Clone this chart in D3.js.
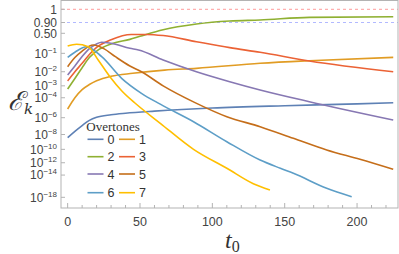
<!DOCTYPE html>
<html>
<head>
<meta charset="utf-8">
<script src="https://cdn.jsdelivr.net/npm/d3@7"></script>
<style>
  body { margin: 0; background: white; }
  svg { display: block; }
</style>
</head>
<body>
<div id="vis"></div>
<script>
// size of the page
let W = 399, H = 254

// frame of the plot
let frame = { left: 61, right: 398, top: 0.5, bottom: 208 }

// overtone colours (mathematica default)
let colors = ['#5E81B5', '#E19C24', '#8FB032', '#EB6235', '#8778B3', '#C56E1A', '#5D9EC7', '#FFBF00']

// data: t0 values and log10 of the mismatch for every overtone
let t0_0 = [0, 5, 10, 15, 20, 30, 40, 60, 100, 150, 200, 225]
let logE_0 = [-8.41, -7.6, -6.9, -6.3, -5.95, -5.68, -5.52, -5.3, -4.98, -4.75, -4.57, -4.46]

let t0_1 = [0, 5, 10, 15, 20, 30, 45, 67, 89, 133, 167, 225]
let logE_1 = [-5.08, -4.0, -3.3, -2.9, -2.62, -2.3, -2.1, -1.9, -1.79, -1.5, -1.36, -1.19]

let t0_2 = [0, 5, 10, 15, 20, 30, 43, 50, 66, 89, 112, 133, 167, 225]
let logE_2 = [-3.25, -2.45, -1.75, -1.2, -0.9, -0.62, -0.47, -0.38, -0.19, -0.068, -0.036, -0.03, -0.017, -0.0144]

let t0_3 = [0, 5, 10, 15, 20, 30, 44, 55, 66, 89, 112, 133, 167, 225]
let logE_3 = [-2.63, -2.0, -1.5, -1.05, -0.75, -0.48, -0.33, -0.33, -0.36, -0.545, -0.76, -0.954, -1.375, -2.0]

let t0_4 = [0, 5, 10, 15, 20, 23.5, 30, 43, 49, 66, 89, 112, 133, 167, 225]
let logE_4 = [-2.21, -1.65, -1.15, -0.8, -0.62, -0.565, -0.6, -0.786, -0.855, -1.32, -2.0, -2.685, -3.33, -4.365, -6.26]

let t0_5 = [0, 5, 10, 17.7, 25, 33, 43, 51, 66, 88, 110, 133, 156, 179, 202, 225]
let logE_5 = [-1.69, -1.2, -0.9, -0.66, -0.8, -1.157, -1.65, -2.0, -3.0, -4.45, -5.89, -7.03, -8.49, -10.09, -11.47, -13.05]

let t0_6 = [0, 5, 13, 23.5, 37.3, 51, 64, 87, 110, 133, 147, 156, 179, 196.3]
let logE_6 = [-1.186, -0.95, -0.723, -1.157, -2.44, -3.61, -4.6, -6.45, -8.94, -11.58, -12.88, -13.7, -16.32, -17.88]

let t0_7 = [0, 6.2, 14.2, 21.1, 29.2, 37.3, 46.5, 64, 87, 110, 128.3, 139.8]
let logE_7 = [-0.697, -0.634, -0.723, -1.323, -2.33, -3.39, -4.49, -6.63, -10.0, -12.88, -15.5, -16.63]

let t0s = [t0_0, t0_1, t0_2, t0_3, t0_4, t0_5, t0_6, t0_7]
let logEs = [logE_0, logE_1, logE_2, logE_3, logE_4, logE_5, logE_6, logE_7]

// tick values
let xTicks = [0, 50, 100, 150, 200]
let yTickVals = [1, 0.9, 0.5, 1e-1, 1e-2, 1e-3, 1e-4, 1e-6, 1e-8, 1e-10, 1e-12, 1e-14, 1e-18]
let yTickBase = ['1', '0.90', '0.50', '10', '10', '10', '10', '10', '10', '10', '10', '10', '10']
let yTickExp = ['', '', '', '\u22121', '\u22122', '\u22123', '\u22124', '\u22126', '\u22128', '\u221210', '\u221212', '\u221214', '\u221218']

// legend labels
let legendTitle = 'Overtones'
let overtones = ['0', '1', '2', '3', '4', '5', '6', '7']

let svg = d3.select('#vis')
  .append('svg')
  .attr('width', W)
  .attr('height', H)
  .style('background-color', 'white')

// scales
let x = d3.scaleLinear()
  .domain([-4.6, 228.3])
  .range([frame.left, frame.right])

// y axis goes with the square root of -log10(E)
let yLin = d3.scaleLinear()
  .domain([0, Math.sqrt(-Math.log10(0.9)), Math.sqrt(-Math.log10(0.5)), Math.sqrt(20.1)])
  .range([9.3, 22.5, 33.3, frame.bottom])
let yLog = v => yLin(Math.sqrt(Math.max(0, -v)))   // v is log10(E)
let y = e => yLog(Math.log10(e))

// dashed reference lines at 1 and 0.9
svg.append('line')
  .attr('x1', frame.left).attr('x2', frame.right)
  .attr('y1', y(1)).attr('y2', y(1))
  .attr('stroke', '#ff9c9c').attr('stroke-width', 1.2)
  .attr('stroke-dasharray', '3,3')
  .attr('opacity', 0.8)
svg.append('line')
  .attr('x1', frame.left).attr('x2', frame.right)
  .attr('y1', y(0.9)).attr('y2', y(0.9))
  .attr('stroke', '#a0a8ff').attr('stroke-width', 1.2)
  .attr('stroke-dasharray', '3,3')
  .attr('opacity', 0.8)

// curves
let line = d3.line()
  .x(d => x(d[0]))
  .y(d => yLog(d[1]))
  .curve(d3.curveMonotoneX)

svg.append('g')
  .selectAll('path')
  .data(d3.range(8))
  .join('path')
  .attr('d', k => line(t0s[k].map((t, i) => [t, logEs[k][i]])))
  .attr('fill', 'none')
  .attr('stroke', k => colors[k])
  .attr('stroke-width', 1.6)

// frame
let axisColor = '#b3b3b3'
svg.append('rect')
  .attr('x', frame.left).attr('y', frame.top)
  .attr('width', frame.right - frame.left)
  .attr('height', frame.bottom - frame.top)
  .attr('fill', 'none')
  .attr('stroke', axisColor)
  .attr('stroke-width', 1)

// x ticks (inward)
let minor = d3.range(0, 230, 10)
svg.append('g')
  .selectAll('line')
  .data(minor)
  .join('line')
  .attr('x1', d => x(d)).attr('x2', d => x(d))
  .attr('y1', frame.bottom)
  .attr('y2', d => frame.bottom - (d % 50 === 0 ? 5 : 3))
  .attr('stroke', axisColor)

svg.append('g')
  .selectAll('text')
  .data(xTicks)
  .join('text')
  .attr('x', d => x(d))
  .attr('y', 226)
  .attr('text-anchor', 'middle')
  .attr('font-family', 'Liberation Sans, Arial, sans-serif')
  .attr('font-size', 12.5)
  .attr('fill', '#444')
  .text(d => d)

// y ticks
svg.append('g')
  .selectAll('line')
  .data(yTickVals)
  .join('line')
  .attr('x1', frame.left).attr('x2', frame.left + 4)
  .attr('y1', d => y(d)).attr('y2', d => y(d))
  .attr('stroke', axisColor)

let yLabels = svg.append('g')
  .selectAll('text')
  .data(yTickVals)
  .join('text')
  .attr('x', 57)
  .attr('y', d => y(d) + 4.3)
  .attr('text-anchor', 'end')
  .attr('font-family', 'Liberation Sans, Arial, sans-serif')
  .attr('font-size', 12)
  .attr('fill', '#444')
yLabels.append('tspan').text((d, i) => yTickBase[i])
yLabels.append('tspan')
  .attr('dy', -5)
  .attr('font-size', 8)
  .text((d, i) => yTickExp[i])

// axis titles
let yt = svg.append('text')
  .attr('x', 8)
  .attr('y', 110)
  .attr('font-family', 'DejaVu Serif, serif')
  .attr('fill', '#333')
yt.append('tspan').attr('font-size', 26).attr('font-style', 'italic').text('\u2130')
yt.append('tspan').attr('font-size', 15).attr('font-style', 'italic').attr('dy', 4).text('k')

let xt = svg.append('text')
  .attr('x', 225)
  .attr('y', 248)
  .attr('font-family', 'Liberation Serif, Times New Roman, serif')
  .attr('fill', '#333')
xt.append('tspan').attr('font-size', 24).attr('font-style', 'italic').text('t')
xt.append('tspan').attr('font-size', 16).attr('dy', 4).text('0')

// legend
svg.append('text')
  .attr('x', 113)
  .attr('y', 131)
  .attr('text-anchor', 'middle')
  .attr('font-family', 'Liberation Serif, Times New Roman, serif')
  .attr('font-size', 13)
  .attr('fill', '#333')
  .text(legendTitle)

let rowY = [139.3, 156.7, 174, 192.7]
let colX = [87.5, 119]
let leg = svg.append('g')
  .selectAll('g')
  .data(d3.range(8))
  .join('g')
  .attr('transform', k => `translate(${colX[k % 2]},${rowY[Math.floor(k / 2)]})`)
leg.append('line')
  .attr('x1', 0).attr('x2', 16)
  .attr('stroke', k => colors[k])
  .attr('stroke-width', 1.6)
leg.append('text')
  .attr('x', 20)
  .attr('y', 4.5)
  .attr('font-family', 'Liberation Sans, Arial, sans-serif')
  .attr('font-size', 12.5)
  .attr('fill', '#333')
  .text(k => overtones[k])
</script>
</body>
</html>
